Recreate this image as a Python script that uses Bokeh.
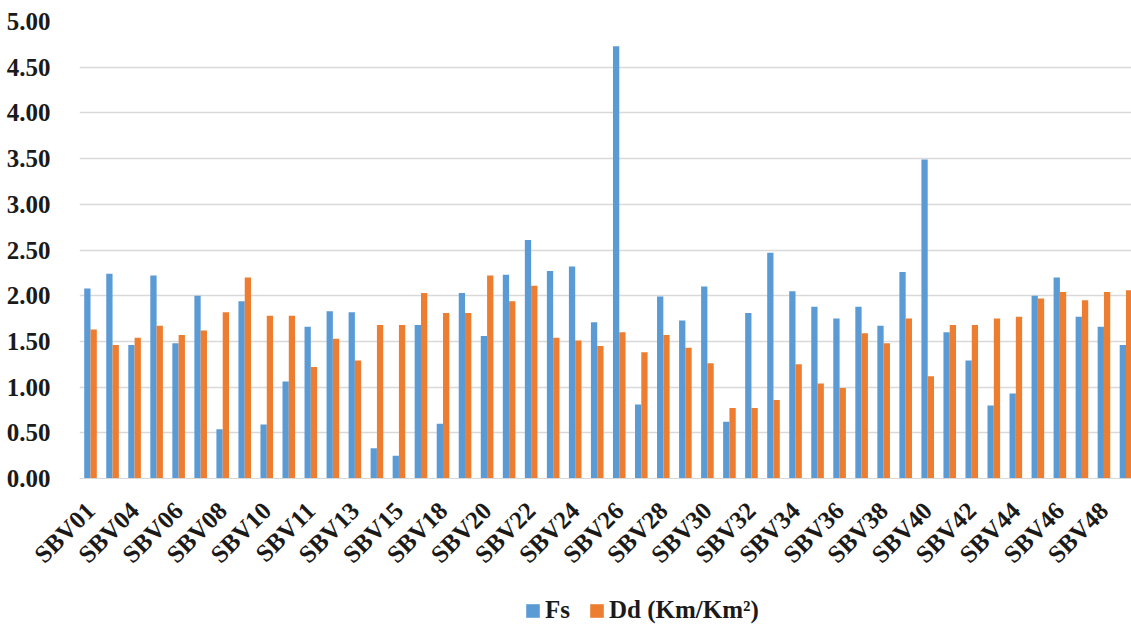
import math
from bokeh.plotting import figure
from bokeh.layouts import column
from bokeh.models import ColumnDataSource, FixedTicker, Legend, LegendItem, Range1d, NumeralTickFormatter
from bokeh.transform import dodge
from bokeh.embed import file_html
from bokeh.resources import INLINE

stations = ["SBV01", "SBV02", "SBV04", "SBV05", "SBV06", "SBV07", "SBV08", "SBV09",
            "SBV10", "SBV10a", "SBV11", "SBV12", "SBV13", "SBV14", "SBV15", "SBV16",
            "SBV18", "SBV19", "SBV20", "SBV21", "SBV22", "SBV23", "SBV24", "SBV25",
            "SBV26", "SBV27", "SBV28", "SBV29", "SBV30", "SBV31", "SBV32", "SBV33",
            "SBV34", "SBV35", "SBV36", "SBV37", "SBV38", "SBV39", "SBV40", "SBV41",
            "SBV42", "SBV43", "SBV44", "SBV45", "SBV46", "SBV47", "SBV48", "SBV49"]

fs = [2.08, 2.24, 1.46, 2.22, 1.48, 2.00, 0.54, 1.94, 0.59, 1.06,
      1.66, 1.83, 1.82, 0.33, 0.25, 1.68, 0.60, 2.03, 1.56, 2.23,
      2.61, 2.27, 2.32, 1.71, 4.73, 0.81, 1.99, 1.73, 2.10, 0.62,
      1.81, 2.47, 2.05, 1.88, 1.75, 1.88, 1.67, 2.26, 3.49, 1.60,
      1.29, 0.80, 0.93, 2.00, 2.20, 1.77, 1.66, 1.46]

dd = [1.63, 1.46, 1.54, 1.67, 1.57, 1.62, 1.82, 2.20, 1.78, 1.78,
      1.22, 1.53, 1.29, 1.68, 1.68, 2.03, 1.81, 1.81, 2.22, 1.94,
      2.11, 1.54, 1.51, 1.45, 1.60, 1.38, 1.57, 1.43, 1.26, 0.77,
      0.77, 0.86, 1.25, 1.04, 0.99, 1.59, 1.48, 1.75, 1.12, 1.68,
      1.68, 1.75, 1.77, 1.97, 2.04, 1.95, 2.04, 2.06]

y_ticks = [0.0, 0.5, 1.0, 1.5, 2.0, 2.5, 3.0, 3.5, 4.0, 4.5, 5.0]

series_names = ["Fs", "Dd (Km/Km²)"]

FONT = "Liberation Serif"
BLUE = "#5B9BD5"
ORANGE = "#ED7D31"
TXT = "#1a1a1a"

xpos = list(range(1, len(stations) + 1))
src = ColumnDataSource(dict(x=xpos, fs=fs, dd=dd, station=stations))

p = figure(width=1131, height=580, x_range=Range1d(0.5, 48.25), y_range=Range1d(0, 5),
           output_backend="svg", toolbar_location=None,
           min_border_top=21, min_border_right=0, min_border_left=79, min_border_bottom=100)

bw = 0.286
r1 = p.vbar(x=dodge("x", -bw / 2), top="fs", width=bw, source=src,
            fill_color=BLUE, line_color=None)
r2 = p.vbar(x=dodge("x", bw / 2), top="dd", width=bw, source=src,
            fill_color=ORANGE, line_color=None)

# x axis
p.xaxis.ticker = FixedTicker(ticks=xpos[::2])
p.xaxis.major_label_overrides = {i: stations[i - 1] for i in xpos[::2]}
p.xaxis.major_label_orientation = math.pi / 4
p.xaxis.major_tick_line_color = None
p.xaxis.minor_tick_line_color = None
p.xaxis.axis_line_color = "#D9D9D9"
p.xaxis.major_label_text_font = FONT
p.xaxis.major_label_text_font_style = "bold"
p.xaxis.major_label_text_font_size = "25px"
p.xaxis.major_label_text_color = TXT
p.xaxis.major_label_standoff = 22
p.xgrid.grid_line_color = None

# y axis
p.yaxis.ticker = FixedTicker(ticks=y_ticks)
p.yaxis.formatter = NumeralTickFormatter(format="0.00")
p.yaxis.axis_line_color = None
p.yaxis.major_tick_line_color = None
p.yaxis.minor_tick_line_color = None
p.yaxis.major_label_text_font = FONT
p.yaxis.major_label_text_font_style = "bold"
p.yaxis.major_label_text_font_size = "25px"
p.yaxis.major_label_text_color = TXT
p.yaxis.major_label_standoff = 23
p.ygrid.ticker = FixedTicker(ticks=y_ticks)
p.ygrid.grid_line_color = "#D9D9D9"
p.ygrid.grid_line_width = 1.5

p.outline_line_color = None

# legend strip below the chart (its frame is aligned with the chart frame)
lf = figure(width=1131, height=49, x_range=Range1d(0, 1), y_range=Range1d(0, 1),
            output_backend="svg", toolbar_location=None,
            x_axis_location=None, y_axis_location=None,
            min_border_top=0, min_border_right=0, min_border_left=0, min_border_bottom=0)
lf.grid.grid_line_color = None
lf.outline_line_color = None
# off-screen swatch renderers, only used for the legend glyphs
l1 = lf.patch(x=[-6, -5, -5, -6], y=[-6, -6, -5, -5], fill_color=BLUE, line_color=None)
l2 = lf.patch(x=[-6, -5, -5, -6], y=[-6, -6, -5, -5], fill_color=ORANGE, line_color=None)

legend = Legend(items=[LegendItem(label=series_names[0], renderers=[l1]),
                       LegendItem(label=series_names[1], renderers=[l2])],
                orientation="horizontal", location=(445, 5),
                label_text_font=FONT, label_text_font_style="bold",
                label_text_font_size="25px", label_text_color=TXT,
                glyph_width=17, glyph_height=17, spacing=18, label_standoff=4,
                border_line_color=None, background_fill_alpha=0, margin=0, padding=2)
lf.add_layout(legend)

layout = column(p, lf, spacing=0)
open("out.html", "w").write(file_html(layout, INLINE))
